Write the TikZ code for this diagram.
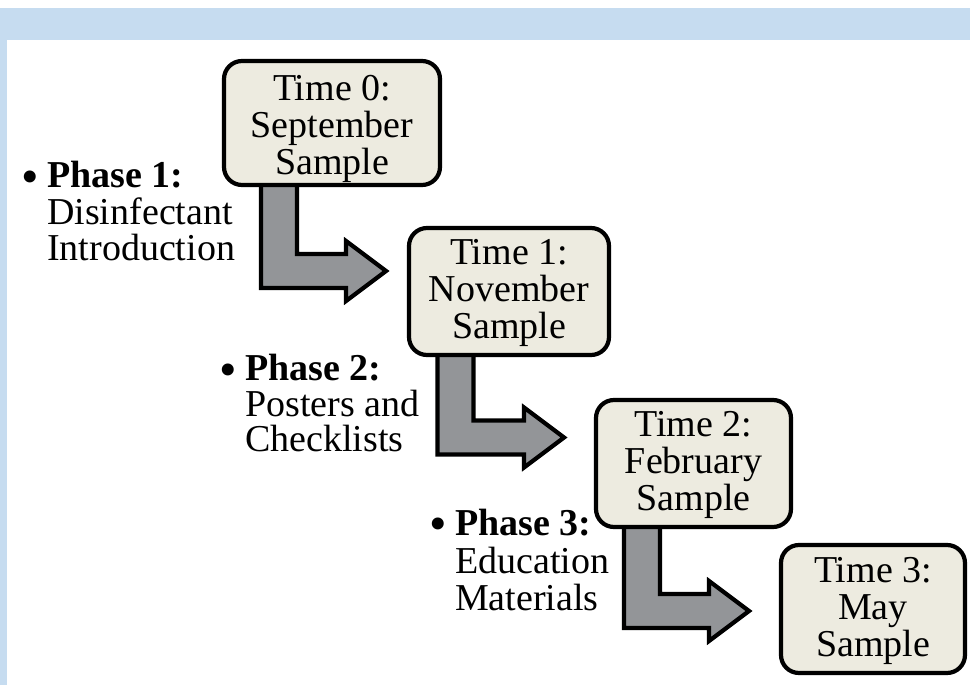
\documentclass[tikz,border=0pt]{standalone}
\usepackage{fontspec}
\setmainfont{Liberation Serif}
\usetikzlibrary{calc,backgrounds}
\definecolor{band}{RGB}{198,220,240}
\definecolor{boxfill}{RGB}{237,235,224}
\definecolor{arrowgray}{RGB}{147,149,152}
\newcommand\bentarrow[2]{%
  \path[bent] let \p1=(#1), \p2=(#2) in
    (\x1-18pt,\y1) -- (\x1+18pt,\y1) -- (\x1+18pt,\y2+17pt) -- (\x2-40pt,\y2+17pt)
    -- (\x2-40pt,\y2+30pt) -- (\x2,\y2) -- (\x2-40pt,\y2-30pt) -- (\x2-40pt,\y2-17pt)
    -- (\x1-18pt,\y2-17pt) -- cycle;}
\begin{document}
\begin{tikzpicture}[x=1pt,y=-1pt,
  box/.style={draw=black, line width=4.2pt, fill=boxfill, rounded corners=18pt,
    align=center, font=\fontsize{38}{37}\selectfont, inner sep=0pt},
  lbl/.style={anchor=base west, inner sep=0pt, font=\fontsize{38}{37}\selectfont},
  bul/.style={inner sep=0pt, font=\fontsize{50}{50}\selectfont},
  bent/.style={draw=black, line width=4.2pt, fill=arrowgray, line join=miter}]
\useasboundingbox (0,0) rectangle (970,685);

% sample boxes
\node[box, minimum width=216pt, minimum height=124pt] (b0) at (332,123) {\rule{0pt}{37pt}Time 0:\\September\\Sample};
\node[box, minimum width=200pt, minimum height=127pt] (b1) at (509,291.5) {\rule{0pt}{29pt}Time 1:\\November\\Sample};
\node[box, minimum width=195pt, minimum height=127pt] (b2) at (693.5,463.5) {\rule{0pt}{28pt}Time 2:\\February\\Sample};
\node[box, minimum width=184pt, minimum height=128pt] (b3) at (873,609) {\rule{0pt}{30pt}Time 3:\\May\\Sample};

% arrow end points
\coordinate (s1) at ($(b0.south)+(-53,-8)$);
\coordinate (t1) at (386,271);
\coordinate (s2) at ($(b1.south)+(-53.5,-8)$);
\coordinate (t2) at (564,437.5);
\coordinate (s3) at ($(b2.south)+(-51.5,-8)$);
\coordinate (t3) at (749,611);

\begin{pgfonlayer}{background}
  \fill[white] (0,0) rectangle (970,685);
  \fill[band] (0,8) rectangle (970,40);
  \fill[band] (0,40) rectangle (7,685);
  \bentarrow{s1}{t1}
  \bentarrow{s2}{t2}
  \bentarrow{s3}{t3}
\end{pgfonlayer}

% phase labels
\node[lbl] (p1a) at (47,187) {\textbf{Phase 1:}};
\node[lbl] (p1b) at (47,224) {Disinfectant};
\node[lbl] (p1c) at (47,260) {Introduction};
\node[bul] (u1) at (30,182) {•};

\node[lbl] (p2a) at (245,380) {\textbf{Phase 2:}};
\node[lbl] (p2b) at (245,416) {Posters and};
\node[lbl] (p2c) at (245,451) {Checklists};
\node[bul] (u2) at (228,375) {•};

\node[lbl] (p3a) at (455,535) {\textbf{Phase 3:}};
\node[lbl] (p3b) at (455,573) {Education};
\node[lbl] (p3c) at (455,610) {Materials};
\node[bul] (u3) at (438,529) {•};
\end{tikzpicture}
\end{document}
